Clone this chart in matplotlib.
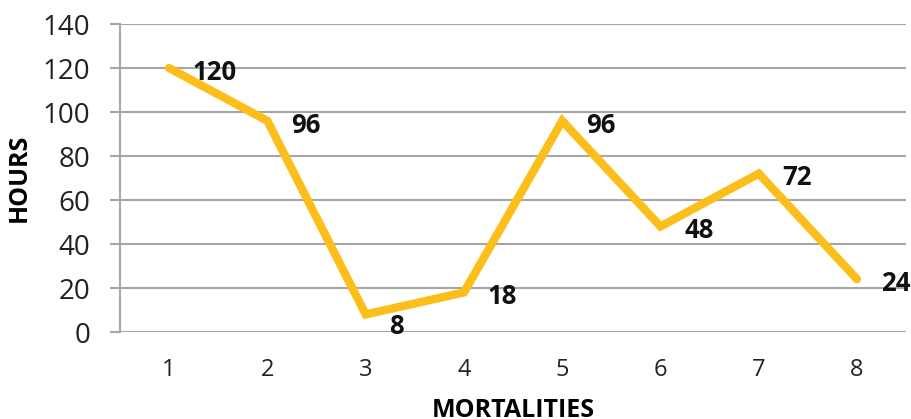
import matplotlib
matplotlib.use("Agg")
from matplotlib import pyplot as plt

# Hours recorded for each mortality
mortalities = [1, 2, 3, 4, 5, 6, 7, 8]
hours = [120, 96, 8, 18, 96, 48, 72, 24]
y_ticks = [0, 20, 40, 60, 80, 100, 120, 140]

plt.rcParams['font.family'] = ['Open Sans', 'DejaVu Sans']

fig = plt.figure(figsize=(9.11, 4.19), dpi=100)
ax = fig.add_axes([0.1317, 0.2076, 0.863, 0.735])

line_color = '#FBBE1A'
grid_color = '#A6A6A6'

ax.plot(mortalities, hours, color=line_color, linewidth=6, solid_joinstyle='miter',
        solid_capstyle='round', zorder=3)

# value labels to the right of each point
for x, y in zip(mortalities, hours):
    dy = -9 if y < 10 else -3
    ax.annotate(str(y), (x, y), xytext=(17, dy), textcoords='offset points',
                ha='left', va='center', fontsize=18.5, fontweight='bold',
                color='#111111', zorder=4)

ax.set_xlim(0.5, 8.5)
ax.set_ylim(0, 140)
ax.set_yticks(y_ticks)
ax.set_xticks(mortalities)
ax.yaxis.grid(True, color=grid_color, linewidth=1.5)
ax.set_axisbelow(True)

for side in ['top', 'right', 'bottom']:
    ax.spines[side].set_visible(False)
ax.spines['left'].set_color(grid_color)
ax.spines['left'].set_linewidth(1.5)

ax.tick_params(axis='y', length=7.5, width=1.5, color=grid_color, pad=14,
               labelsize=20, labelcolor='#222222')
ax.tick_params(axis='x', length=0, pad=19, labelsize=17, labelcolor='#222222')

ax.set_ylabel('HOURS', fontsize=18, fontweight='bold', labelpad=8)
ax.set_xlabel('MORTALITIES', fontsize=18, fontweight='bold', labelpad=11)

fig.savefig('out.png', dpi=100)
